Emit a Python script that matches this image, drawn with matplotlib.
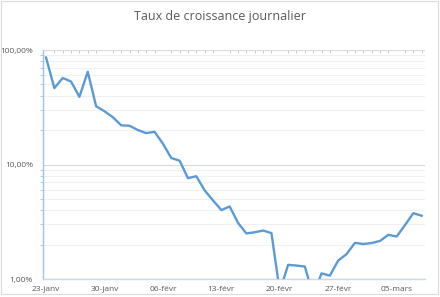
import matplotlib
matplotlib.use("Agg")
import matplotlib.pyplot as plt
from matplotlib.ticker import FixedLocator, NullFormatter, FuncFormatter
from matplotlib.patches import Rectangle

plt.rcParams['font.family'] = ['Open Sans', 'DejaVu Sans']

title = "Taux de croissance journalier"
# one value per day, 23 Jan .. 8 Mar (percent)
values = [86, 46.5, 57, 53, 39, 64.6, 32.3, 29.2, 25.9, 22.0, 21.8, 20.0, 18.8, 19.3,
          15.2, 11.4, 10.8, 7.6, 7.9, 5.95, 4.86, 4.0, 4.3, 3.09, 2.50, 2.56, 2.65, 2.52,
          0.78, 1.33, 1.31, 1.285, 0.72, 1.12, 1.07, 1.45, 1.65, 2.07, 2.02, 2.06, 2.15,
          2.43, 2.35, 2.96, 3.76, 3.57]
tick_labels = ["23-janv", "30-janv", "06-févr", "13-févr", "20-févr", "27-févr", "05-mars"]
tick_days = [0, 7, 14, 21, 28, 35, 42]
y_ticks = [1, 10, 100]

fig = plt.figure(figsize=(4.4, 2.97), dpi=100)
ax = fig.add_axes([0.097, 0.0606, 0.869, 0.771])

x = list(range(len(values)))
ax.plot(x, values, color='#5b9bd5', lw=1.7, solid_joinstyle='round', zorder=3)

ax.set_yscale('log')
ax.set_ylim(1, 100)
ax.set_xlim(-0.4, len(values) - 0.6)

ax.yaxis.set_major_locator(FixedLocator(y_ticks))
ax.yaxis.set_major_formatter(FuncFormatter(lambda v, p: f"{v:.2f}".replace('.', ',') + "%"))
minor = [m * d for d in (1, 10) for m in range(2, 10)]
ax.yaxis.set_minor_locator(FixedLocator(minor))
ax.yaxis.set_minor_formatter(NullFormatter())

ax.grid(True, which='major', axis='y', color='#d9d9d9', lw=0.8)
ax.grid(True, which='minor', axis='y', color='#f0f0f0', lw=0.8)
ax.set_axisbelow(True)

ax.set_xticks(tick_days)
ax.set_xticklabels(tick_labels)
ax.xaxis.set_minor_locator(FixedLocator(x))
ax.tick_params(axis='x', which='major', length=0, pad=5, labelsize=6, labelcolor='#595959')
ax.tick_params(axis='x', which='minor', bottom=False, top=True, length=2, color='#bfbfbf', direction='in')
ax.tick_params(axis='y', which='major', length=0, pad=7, labelsize=6, labelcolor='#595959')
ax.tick_params(axis='y', which='minor', length=2.5, color='#9dc3e6', direction='out')

for s in ['top', 'right']:
    ax.spines[s].set_visible(False)
ax.spines['left'].set_color('#9dc3e6')
ax.spines['left'].set_linewidth(1.0)
ax.spines['bottom'].set_color('#c9d9ea')
ax.spines['bottom'].set_linewidth(1.0)

fig.text(0.5, 0.945, title, ha='center', va='center', fontsize=9, color='#595959')

fig.patches.append(Rectangle((0.002, 0.01), 0.993, 0.985, transform=fig.transFigure,
                             fill=False, edgecolor='#d9d9d9', lw=0.8))

fig.savefig('out.png', dpi=100)
